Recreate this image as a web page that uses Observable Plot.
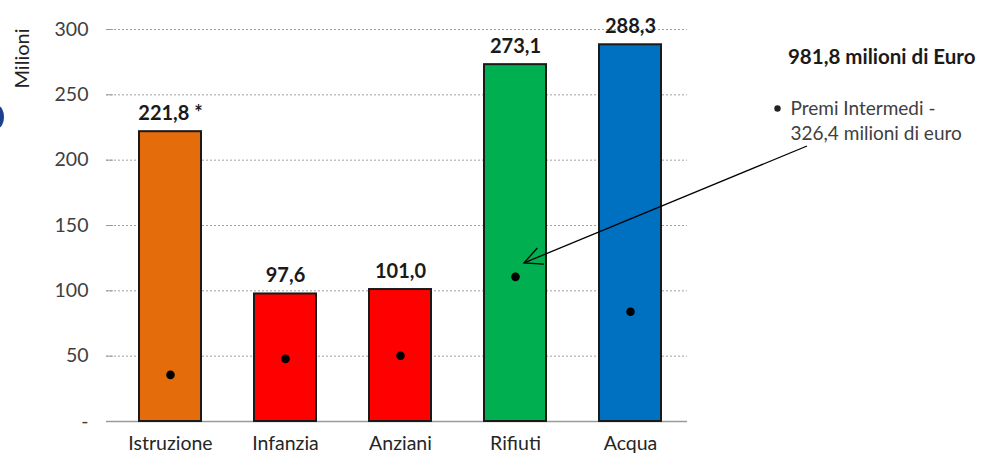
<!DOCTYPE html>
<html><head><meta charset="utf-8">
<script src="https://cdn.jsdelivr.net/npm/d3@7"></script>
<script src="https://cdn.jsdelivr.net/npm/@observablehq/plot@0.6"></script>
<style>
html,body{margin:0;padding:0;background:#fff;}
#wrap{position:relative;width:981px;height:456px;overflow:hidden;}
#blob{position:absolute;left:-8px;top:106px;width:12px;height:22px;border-radius:50%;background:#1f3f8f;}
svg{font-family:Lato,"Open Sans",sans-serif;}
</style></head>
<body><div id="wrap"><div id="blob"></div></div>
<script>
const categories = ["Istruzione","Infanzia","Anziani","Rifiuti","Acqua"];
const totals = [221.8, 97.6, 101.0, 273.1, 288.3];
const totalLabels = ["221,8 *","97,6","101,0","273,1","288,3"];
const premi = [35.7, 47.9, 50.3, 110.7, 84.0];
const colors = ["#E46C0A","#FF0000","#FF0000","#00B050","#0070C0"];
const yTicks = [0,50,100,150,200,250,300];
const totalText = "981,8 milioni di Euro";
const noteLines = ["Premi Intermedi -","326,4 milioni di euro"];
const yTitle = "Milioni";

const rows = categories.map((c,i)=>({cat:c,total:totals[i],label:totalLabels[i],premi:premi[i],color:colors[i]}));

const plot = Plot.plot({
  width: 981, height: 456,
  marginTop: 29, marginBottom: 35, marginLeft: 113, marginRight: 294,
  style: {fontFamily: "Lato, 'Open Sans', sans-serif", fontSize: "19px", color: "#404040"},
  x: {domain: categories, paddingInner: 0.46, paddingOuter: 0.22, label: null},
  y: {domain: [0,300], label: null},
  marks: [
    Plot.ruleY(yTicks.filter(d=>d>0), {stroke:"#a0a0a0", strokeDasharray:"2,2", strokeWidth:1, insetLeft:-7}),
    Plot.ruleY([0], {stroke:"#9a9a9a", strokeWidth:1.5, insetLeft:-7}),
    Plot.ruleX([0], {x: () => null, frameAnchor:"left", stroke:"#9a9a9a", strokeWidth:1.5}),
    Plot.axisY({ticks: yTicks, tickSize: 7, tickPadding: 18, stroke:"#9a9a9a", fill:"#404040", fontSize: 19.5,
      tickFormat: d => d === 0 ? "-" : String(d)}),
    Plot.axisX({tickSize: 0, tickPadding: 15, fill:"#262626", fontSize: 19.5}),
    Plot.barY(rows, {x:"cat", y:"total", fill:"color", stroke:"#1a1a1a", strokeWidth:2}),
    Plot.dot(rows, {x:"cat", y:"premi", r:4.3, fill:"#000", stroke:null}),
    Plot.text(rows, {x:"cat", y:"total", text:"label", dy:-12, lineAnchor:"bottom", fontWeight:"bold", fontSize:20, fill:"#1a1a1a"}),
    Plot.text([yTitle], {frameAnchor:"top-left", dx:-91, dy:-1, rotate:-90, textAnchor:"end", lineAnchor:"middle", fontSize:20, fill:"#222"}),
    Plot.text([totalText], {frameAnchor:"top-right", dx:288, dy:28, textAnchor:"end", lineAnchor:"middle", fontWeight:"bold", fontSize:20.5, fill:"#1a1a1a"}),
    Plot.text([noteLines[0]], {frameAnchor:"top-left", dx:677, dy:79, textAnchor:"start", lineAnchor:"middle", fontSize:19, fill:"#404040"}),
    Plot.text([noteLines[1]], {frameAnchor:"top-left", dx:677, dy:104, textAnchor:"start", lineAnchor:"middle", fontSize:19, fill:"#404040"}),
    Plot.dot([0], {frameAnchor:"top-left", dx:664, dy:79, r:3.2, fill:"#222", stroke:null})
  ]
});
document.getElementById("wrap").appendChild(plot);

// annotation arrow toward the Rifiuti bar
const xs = plot.scale("x"), ys = plot.scale("y");
const tipX = xs.apply("Rifiuti") + xs.bandwidth/2 + 9;
const tipY = ys.apply(121);
const startX = 807, startY = 146;
const svg = d3.select(plot);
const g = svg.append("g").attr("stroke","#000").attr("stroke-width",1.3).attr("fill","none");
g.append("line").attr("x1",startX).attr("y1",startY).attr("x2",tipX).attr("y2",tipY);
const ang = Math.atan2(startY-tipY, startX-tipX);
const L = 20, spread = 0.45;
g.append("polyline").attr("points",[
  [tipX+L*Math.cos(ang+spread), tipY+L*Math.sin(ang+spread)],
  [tipX, tipY],
  [tipX+L*Math.cos(ang-spread), tipY+L*Math.sin(ang-spread)]
].map(p=>p.join(",")).join(" "));
</script>
</body></html>
